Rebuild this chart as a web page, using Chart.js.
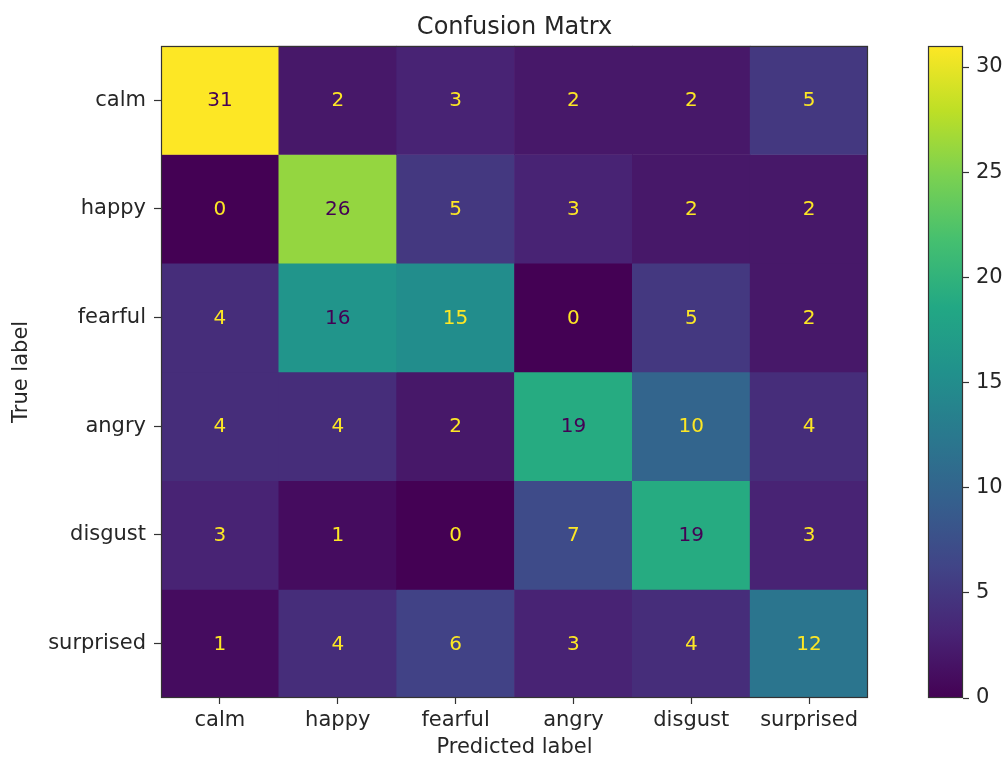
<!DOCTYPE html>
<html>
<head>
<meta charset="utf-8">
<script src="https://cdn.jsdelivr.net/npm/chart.js@4.4.1/dist/chart.umd.min.js"></script>
<style>
  html, body { margin: 0; padding: 0; background: #ffffff; }
  #wrap { position: relative; width: 1006px; height: 760px; overflow: hidden; }
  #wrap canvas { position: absolute; top: 0; }
  #cm { left: 0; }
  #cbar { left: 900px; }
</style>
</head>
<body>
<div id="wrap">
  <canvas id="cm" width="1006" height="760"></canvas>
  <canvas id="cbar" width="106" height="760"></canvas>
</div>
<script>
// Class names (columns = predicted, rows = true)
const predictedLabels = ['calm', 'happy', 'fearful', 'angry', 'disgust', 'surprised'];
const trueLabels = ['calm', 'happy', 'fearful', 'angry', 'disgust', 'surprised'];

// Counts per true class, in predicted-label order
const rowCalm      = [31, 2, 3, 2, 2, 5];
const rowHappy     = [0, 26, 5, 3, 2, 2];
const rowFearful   = [4, 16, 15, 0, 5, 2];
const rowAngry     = [4, 4, 2, 19, 10, 4];
const rowDisgust   = [3, 1, 0, 7, 19, 3];
const rowSurprised = [1, 4, 6, 3, 4, 12];

// Colour scale range and colorbar ticks
const colorMin = 0;
const colorMax = 31;
const colorbarTicks = [0, 5, 10, 15, 20, 25, 30];

const matrix = [rowCalm, rowHappy, rowFearful, rowAngry, rowDisgust, rowSurprised];

// viridis colormap anchors (0.0 .. 1.0 in steps of 0.1)
const VIRIDIS = ['#440154', '#482475', '#414487', '#355f8d', '#2a788e', '#21918c',
                 '#22a884', '#44bf70', '#7ad151', '#bddf26', '#fde725'];
function hexToRgb(h) {
  return [parseInt(h.slice(1, 3), 16), parseInt(h.slice(3, 5), 16), parseInt(h.slice(5, 7), 16)];
}
function viridis(t) {
  t = Math.max(0, Math.min(1, t));
  const pos = t * (VIRIDIS.length - 1);
  const i = Math.min(Math.floor(pos), VIRIDIS.length - 2);
  const f = pos - i;
  const a = hexToRgb(VIRIDIS[i]), b = hexToRgb(VIRIDIS[i + 1]);
  const c = a.map((v, k) => Math.round(v + (b[k] - v) * f));
  return 'rgb(' + c.join(',') + ')';
}
const norm = v => (v - colorMin) / (colorMax - colorMin);

const FONT = 'DejaVu Sans';
const TEXT = '#262626';
const LINE = '#333333';

// Each true-label row is one dataset of floating bars spanning [row, row + 1]
const datasets = matrix.map((row, r) => ({
  label: trueLabels[r],
  data: row.map(() => [r, r + 1]),
  counts: row,
  backgroundColor: row.map(v => viridis(norm(v))),
  borderWidth: 0,
  grouped: false,
  barPercentage: 1,
  categoryPercentage: 1
}));

// Count annotations centred in each cell
const cellText = {
  id: 'cellText',
  afterDatasetsDraw(chart) {
    const ctx = chart.ctx;
    ctx.save();
    ctx.font = '20px "' + FONT + '"';
    ctx.textAlign = 'center';
    ctx.textBaseline = 'middle';
    const mid = (colorMin + colorMax) / 2;
    chart.data.datasets.forEach((ds, r) => {
      chart.getDatasetMeta(r).data.forEach((el, c) => {
        const v = ds.counts[c];
        const p = el.getCenterPoint();
        ctx.fillStyle = v > mid ? viridis(0) : viridis(1);
        ctx.fillText(String(v), p.x, p.y + 1);
      });
    });
    ctx.restore();
  }
};

// Frame around the plotting area
const frame = {
  id: 'frame',
  afterDraw(chart) {
    const a = chart.chartArea;
    const ctx = chart.ctx;
    ctx.save();
    ctx.strokeStyle = LINE;
    ctx.lineWidth = 1.2;
    ctx.strokeRect(Math.round(a.left) + 0.5, Math.round(a.top) + 0.5,
                   Math.round(a.right - a.left) - 1, Math.round(a.bottom - a.top) - 1);
    ctx.restore();
  }
};

new Chart(document.getElementById('cm'), {
  type: 'bar',
  data: { labels: predictedLabels, datasets },
  plugins: [cellText, frame],
  options: {
    responsive: false,
    animation: false,
    devicePixelRatio: 1,
    layout: { padding: { left: 0, right: 138, top: 0, bottom: 0 } },
    plugins: {
      legend: { display: false },
      tooltip: { enabled: false },
      title: {
        display: true,
        text: 'Confusion Matrx',
        fullSize: false,
        color: TEXT,
        font: { family: FONT, size: 24, weight: 'normal', lineHeight: 1.2 },
        padding: { top: 13, bottom: 4 }
      }
    },
    scales: {
      x: {
        type: 'category',
        offset: true,
        grid: { offset: false, drawOnChartArea: false, drawTicks: true, tickLength: 6, color: LINE, tickWidth: 1.2 },
        border: { display: false },
        ticks: { color: TEXT, font: { family: FONT, size: 21 }, padding: 4, maxRotation: 0, autoSkip: false },
        title: { display: true, text: 'Predicted label', color: TEXT,
                 font: { family: FONT, size: 21, lineHeight: 1.2 }, padding: { top: 0, bottom: 0 } },
        afterFit(s) { s.height = 62; }
      },
      y: {
        type: 'linear',
        min: 0,
        max: trueLabels.length,
        reverse: true,
        afterBuildTicks(s) { s.ticks = trueLabels.map((_, i) => ({ value: i + 0.5 })); },
        grid: { drawOnChartArea: false, drawTicks: true, tickLength: 7, color: LINE, tickWidth: 1.2 },
        border: { display: false },
        ticks: { color: TEXT, font: { family: FONT, size: 21 }, padding: 8,
                 callback: (v, i) => trueLabels[i] },
        title: { display: true, text: 'True label', color: TEXT,
                 font: { family: FONT, size: 21, lineHeight: 1.2 }, padding: { top: 9, bottom: 0 } },
        afterFit(s) { s.width = 161; }
      }
    }
  }
});

// Colorbar: one floating bar over the full colour range, filled with the colormap
function colorbarFill(context) {
  const area = context.chart.chartArea;
  if (!area) return VIRIDIS[5];
  const g = context.chart.ctx.createLinearGradient(0, area.bottom, 0, area.top);
  VIRIDIS.forEach((c, i) => g.addColorStop(i / (VIRIDIS.length - 1), c));
  return g;
}

new Chart(document.getElementById('cbar'), {
  type: 'bar',
  data: {
    labels: [''],
    datasets: [{
      data: [[colorMin, colorMax]],
      backgroundColor: colorbarFill,
      borderWidth: 0,
      barPercentage: 1,
      categoryPercentage: 1
    }]
  },
  plugins: [frame],
  options: {
    responsive: false,
    animation: false,
    devicePixelRatio: 1,
    layout: { padding: { left: 28, right: 0, top: 46, bottom: 62 } },
    plugins: { legend: { display: false }, tooltip: { enabled: false } },
    scales: {
      x: { display: false },
      y: {
        position: 'right',
        min: colorMin,
        max: colorMax,
        afterBuildTicks(s) { s.ticks = colorbarTicks.map(v => ({ value: v })); },
        grid: { drawOnChartArea: false, drawTicks: true, tickLength: 6, color: LINE, tickWidth: 1.2 },
        border: { display: false },
        ticks: { color: TEXT, font: { family: FONT, size: 21 }, padding: 7 },
        afterFit(s) { s.width = 43; }
      }
    }
  }
});
</script>
</body>
</html>
